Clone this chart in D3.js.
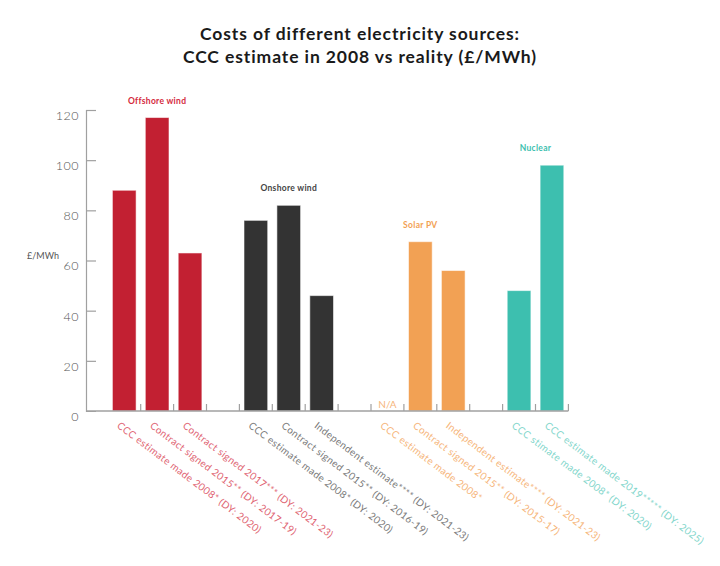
<!DOCTYPE html>
<html>
<head>
<meta charset="utf-8">
<script src="https://cdn.jsdelivr.net/npm/d3@7"></script>
<style>
  html, body { margin: 0; padding: 0; background: #fff; }
  svg { display: block; font-family: Lato, "Open Sans", sans-serif; }
</style>
</head>
<body>
<svg id="chart" width="720" height="566"></svg>
<script>
// ---- data ----
const slots = ["s0","s1","s2","s3","s4","s5","s6","s7","s8","s9","s10","s11","s12","s13"];
const labels = [
  "CCC estimate made 2008* (DY: 2020)",
  "Contract signed 2015** (DY: 2017-19)",
  "Contract signed 2017*** (DY: 2021-23)",
  "",
  "CCC estimate made 2008* (DY: 2020)",
  "Contract signed 2015** (DY: 2016-19)",
  "Independent estimate**** (DY: 2021-23)",
  "",
  "CCC estimate made 2008*",
  "Contract signed 2015** (DY: 2015-17)",
  "Independent estimate**** (DY: 2021-23)",
  "",
  "CCC stimate made 2008* (DY: 2020)",
  "CCC estimate made 2019***** (DY: 2025)"
];
const values = [88, 117, 63, null, 76, 82, 46, null, null, 67.5, 56, null, 48, 98];
const groupOf = [0, 0, 0, null, 1, 1, 1, null, 2, 2, 2, null, 3, 3];
const groupNames = ["Offshore wind", "Onshore wind", "Solar PV", "Nuclear"];
const groupSlots = [[0, 2], [4, 6], [8, 10], [12, 13]];
const naSlots = [8];
const naText = "N/A";
const yTicks = [0, 20, 40, 60, 80, 100, 120];
const titleLines = ["Costs of different electricity sources:", "CCC estimate in 2008 vs reality (£/MWh)"];
const yLabel = "£/MWh";

// ---- styles ----
const barColors = ["#c22032", "#333333", "#f2a154", "#3dbfaf"];
const groupLabelColors = ["#d42a3c", "#444444", "#f2a154", "#3dbfaf"];
const tickLabelColors = ["#e06472", "#7a7a7a", "#f6b57a", "#82d6cb"];

const svg = d3.select("#chart");

const x = d3.scaleBand().domain(slots).range([107.8, 568.4]).paddingInner(0.28).paddingOuter(0.14);
const y = d3.scaleLinear().domain([0, 120]).range([411, 110]);
const step = x.step();
const slotStart = i => x(slots[i]) - step * 0.14;
const slotCenter = i => x(slots[i]) + x.bandwidth() / 2;

// title
svg.append("g").selectAll("text").data(titleLines).join("text")
  .attr("x", 360).attr("y", (d, i) => 40 + i * 22.5)
  .attr("text-anchor", "middle")
  .attr("font-size", 17.5).attr("font-weight", 700).attr("fill", "#1a1a1a")
  .attr("letter-spacing", 0.9)
  .text(d => d);

// y axis
const yAxis = d3.axisRight(y).tickValues(yTicks).tickSize(10).tickFormat(d3.format("d"));
const gy = svg.append("g").attr("transform", "translate(86,0)").call(yAxis);
gy.select(".domain").attr("stroke", "#a0a0a0").attr("stroke-width", 1.2);
gy.selectAll(".tick line").attr("stroke", "#a0a0a0").attr("stroke-width", 1.2);
gy.selectAll(".tick text")
  .attr("x", -7).attr("dy", "0.75em").attr("text-anchor", "end")
  .attr("font-size", 12.5).attr("font-weight", 300).attr("fill", "#555")
  .attr("letter-spacing", 0.5)
  .attr("font-family", "Lato, sans-serif");
gy.selectAll(".tick").filter(d => d === 0).select("line").remove();

svg.append("text").attr("x", 27).attr("y", 259)
  .attr("font-size", 9).attr("fill", "#555").text(yLabel);

// bars
svg.append("g").selectAll("rect")
  .data(values.map((v, i) => ({ v, i })).filter(d => d.v !== null))
  .join("rect")
  .attr("x", d => x(slots[d.i]))
  .attr("width", x.bandwidth())
  .attr("y", d => y(d.v))
  .attr("height", d => y(0) - y(d.v))
  .attr("fill", d => barColors[groupOf[d.i]])
  .attr("stroke", "rgba(255,255,255,0.55)")
  .attr("stroke-width", 1);

// x axis baseline with ticks at slot boundaries
const gx = svg.append("g");
gx.append("line").attr("x1", 86).attr("x2", slotStart(13) + step)
  .attr("y1", y(0)).attr("y2", y(0))
  .attr("stroke", "#a0a0a0").attr("stroke-width", 1.4);
gx.selectAll("line.tk").data(d3.range(1, 15)).join("line").attr("class", "tk")
  .attr("x1", i => slotStart(0) + i * step).attr("x2", i => slotStart(0) + i * step)
  .attr("y1", y(0)).attr("y2", y(0) - 7)
  .attr("stroke", "#a0a0a0").attr("stroke-width", 1.2);

// N/A
svg.append("g").selectAll("text").data(naSlots).join("text")
  .attr("x", i => slotCenter(i)).attr("y", 408)
  .attr("text-anchor", "middle").attr("font-size", 10)
  .attr("fill", tickLabelColors[2]).text(naText);

// group labels
svg.append("g").selectAll("text").data(groupNames).join("text")
  .attr("x", (d, g) => (slotCenter(groupSlots[g][0]) + slotCenter(groupSlots[g][1])) / 2)
  .attr("y", (d, g) => {
    const vs = values.filter((v, i) => groupOf[i] === g && v !== null);
    return y(d3.max(vs)) - 14;
  })
  .attr("text-anchor", "middle").attr("font-size", 8.5).attr("font-weight", 700)
  .attr("letter-spacing", 0.3)
  .attr("fill", (d, g) => groupLabelColors[g])
  .text(d => d);

// rotated category labels
svg.append("g").selectAll("text")
  .data(labels.map((t, i) => ({ t, i })).filter(d => d.t !== ""))
  .join("text")
  .attr("transform", d => `translate(${slotCenter(d.i) - 8},427) rotate(37)`)
  .attr("font-size", 10).attr("font-weight", 400)
  .attr("letter-spacing", 0.35)
  .attr("fill", d => tickLabelColors[groupOf[d.i]])
  .text(d => d.t);
</script>
</body>
</html>
